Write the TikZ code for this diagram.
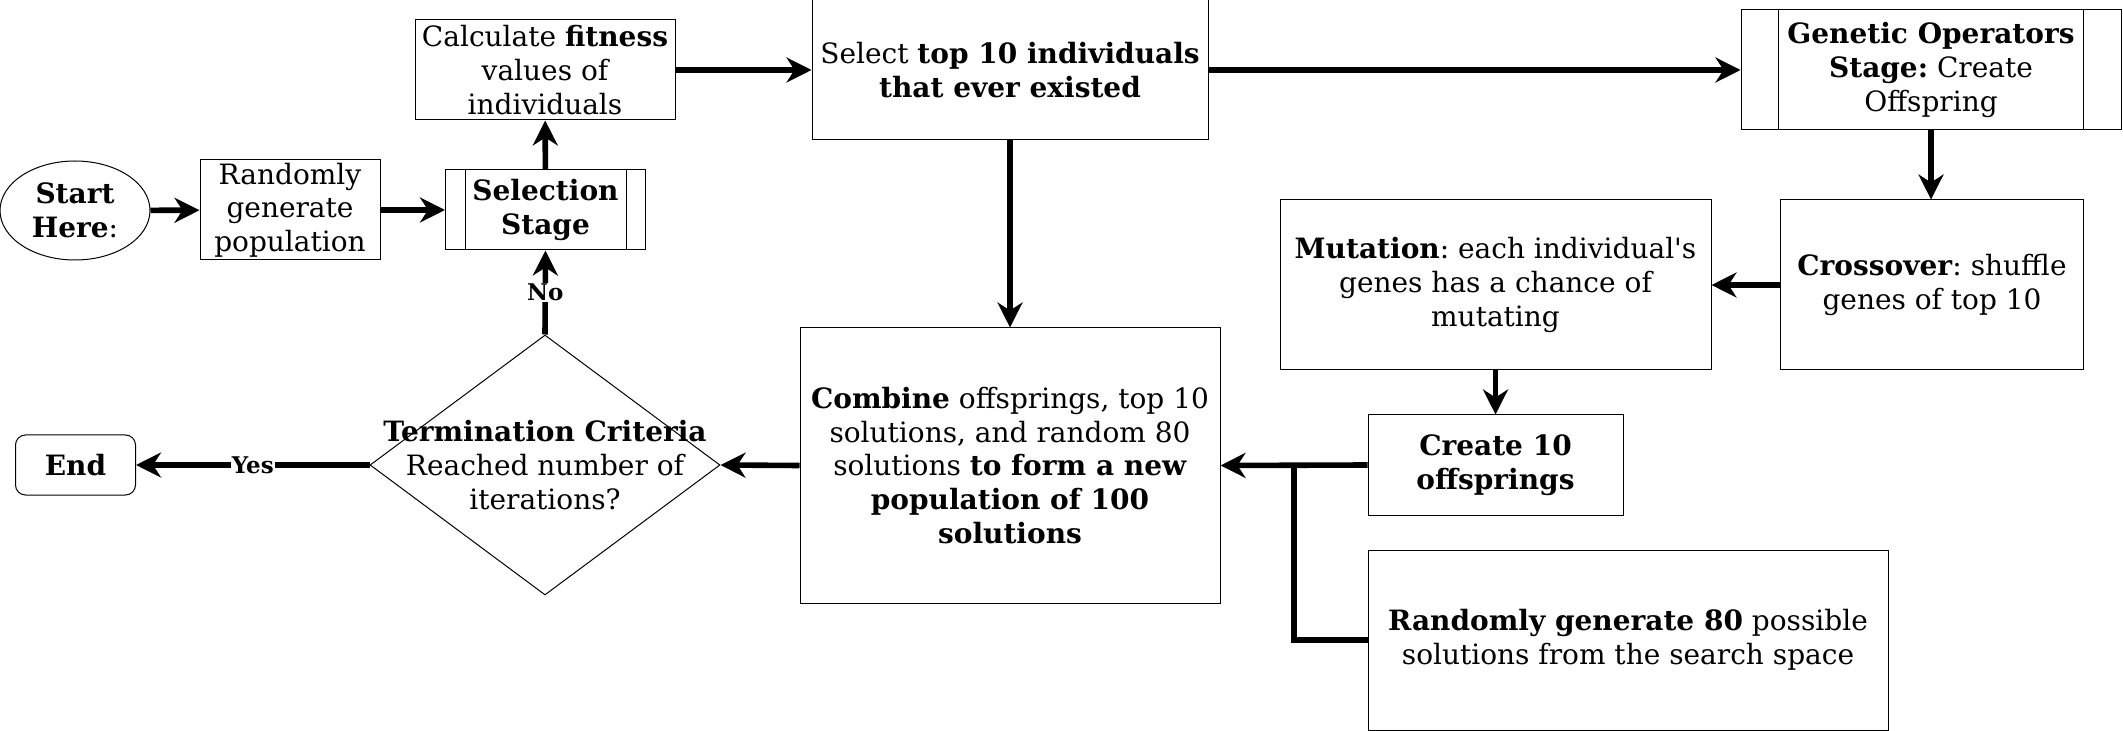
\documentclass[tikz,border=0pt]{standalone}
\usepackage{fontspec}
\setmainfont{DejaVu Serif}
\usetikzlibrary{shapes.geometric,arrows.meta}
\newcommand{\straightq}{\XeTeXglyph\numexpr\XeTeXcharglyph"27\relax}
\tikzset{
  txt/.style={align=center, font=\fontsize{14}{16.8}\selectfont\frenchspacing, inner sep=1pt},
  box/.style={txt, draw, line width=0.5pt, rectangle},
  conn/.style={line width=2.8pt, -{Stealth[length=12.5pt,width=12.5pt,inset=4pt]}},
  plain/.style={line width=2.8pt},
  lbl/.style={fill=white, font=\bfseries\fontsize{11.5}{12}\selectfont, inner sep=0.5pt}
}
\begin{document}
\begin{tikzpicture}[x=0.5pt,y=-0.5pt]
\useasboundingbox (0,0) rectangle (2123,731);
\node[txt, draw, ellipse, line width=0.5pt, minimum width=75pt, minimum height=49.5pt, inner sep=0pt] (start) at (75,210.5) {\textbf{Start}\\\textbf{Here}:};
\node[box, minimum width=90pt, minimum height=50pt] (rand) at (290,210) {Randomly\\generate\\population};
\node[box, minimum width=100pt, minimum height=40pt] (sel) at (545.5,210) {\textbf{Selection}\\\textbf{Stage}};
\draw[line width=0.5pt] ([xshift=10pt]sel.north west) -- ([xshift=10pt]sel.south west);
\draw[line width=0.5pt] ([xshift=-10pt]sel.north east) -- ([xshift=-10pt]sel.south east);
\node[box, minimum width=130pt, minimum height=50pt] (calc) at (545,70) {Calculate \textbf{fitness}\\values of\\individuals};
\node[box, minimum width=198pt, minimum height=70pt] (select) at (1010,70) {Select \textbf{top 10 individuals}\\\textbf{that ever existed}};
\node[box, minimum width=190pt, minimum height=60pt] (gen) at (1931,70) {\textbf{Genetic Operators}\\\textbf{Stage:} Create\\Offspring};
\draw[line width=0.5pt] ([xshift=19pt]gen.north west) -- ([xshift=19pt]gen.south west);
\draw[line width=0.5pt] ([xshift=-19pt]gen.north east) -- ([xshift=-19pt]gen.south east);
\node[box, minimum width=151.5pt, minimum height=85pt] (cross) at (1932,285) {\textbf{Crossover}: shuffle\\genes of top 10};
\node[box, minimum width=215.5pt, minimum height=85pt] (mut) at (1495.5,285) {\textbf{Mutation}: each individual\straightq s\\genes has a chance of\\mutating};
\node[box, minimum width=127.5pt, minimum height=50pt] (create) at (1495.5,465) {\textbf{Create 10}\\\textbf{offsprings}};
\node[box, minimum width=260pt, minimum height=90pt] (rnd80) at (1628,640) {\textbf{Randomly generate 80} possible\\solutions from the search space};
\node[box, minimum width=210pt, minimum height=137.5pt] (combine) at (1010,465.5) {\textbf{Combine} offsprings, top 10\\solutions, and random 80\\solutions \textbf{to form a new}\\\textbf{population of 100}\\\textbf{solutions}};
\node[draw, diamond, line width=0.5pt, minimum width=175pt, minimum height=130pt, inner sep=0pt, aspect=1.346] (term) at (545,465) {};
\node[txt] (termtxt) at (545,465) {\textbf{Termination Criteria}\\Reached number of\\iterations?};
\node[box, rounded corners=5pt, minimum width=60pt, minimum height=30pt] (end) at (75.5,465) {\textbf{End}};
\coordinate (join) at (1294,465);
\draw[conn] (start) -- (rand);
\draw[conn] (rand) -- (sel);
\draw[conn] (sel) -- (calc);
\draw[conn] (calc.east) -- (select.west);
\draw[conn] (select.east) -- (gen.west);
\draw[conn] (gen.south) -- (cross.north -| gen.south);
\draw[conn] (cross.west) -- (mut.east);
\draw[conn] (mut.south) -- (create.north);
\draw[conn] (select.south) -- (combine.north);
\draw[conn] (create.west) -- (combine.east);
\draw[plain] (rnd80.west) -| (join);
\draw[conn] (combine.west) -- (term.east);
\draw[conn] (term.north) -- node[lbl] {No} (sel.south);
\draw[conn] (term.west) -- node[lbl] {Yes} (end.east);
\end{tikzpicture}
\end{document}
